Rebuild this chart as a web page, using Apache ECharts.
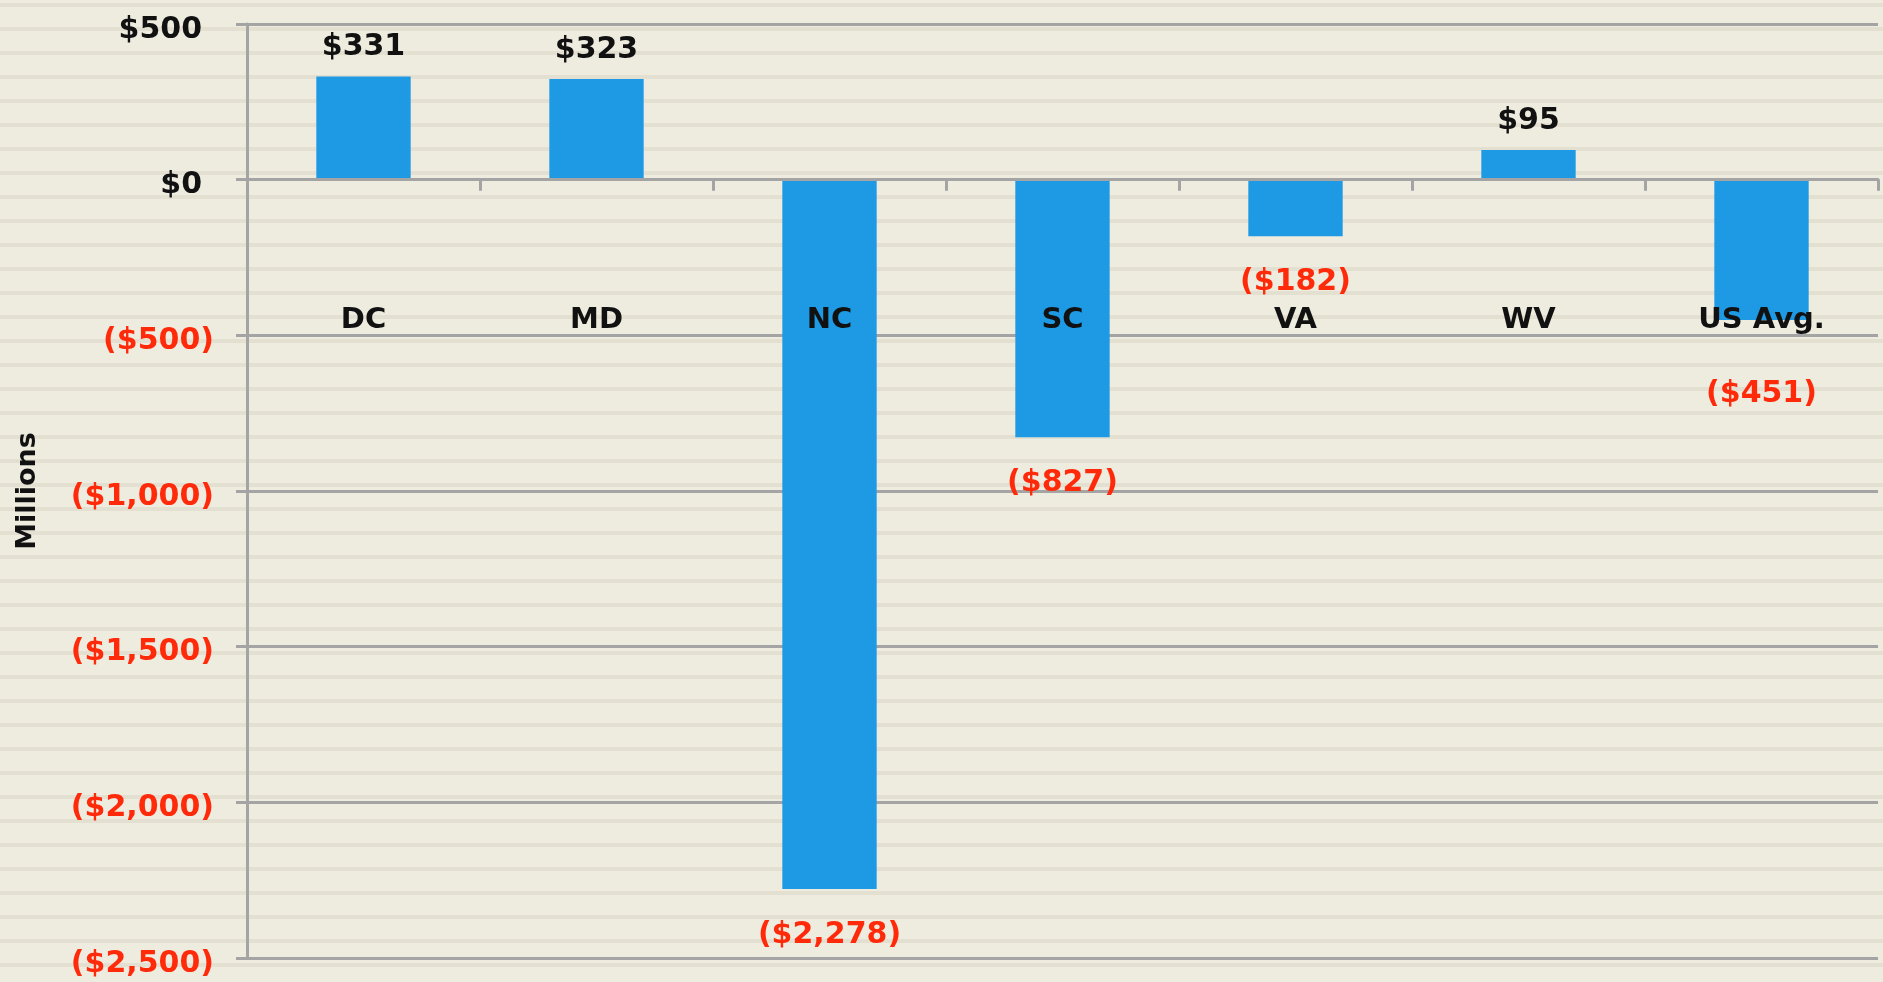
<!DOCTYPE html>
<html>
<head>
<meta charset="utf-8">
<script src="https://cdn.jsdelivr.net/npm/echarts@6/dist/echarts.min.js"></script>
<style>
  html, body { margin: 0; padding: 0; }
  body {
    width: 1883px; height: 982px; overflow: hidden;
    background: repeating-linear-gradient(to bottom, #eeebdf 0px, #eeebdf 3px, #e4e0d1 3px, #e4e0d1 7px, #eeebdf 7px, #eeebdf 24px);
  }
  #chart { width: 1883px; height: 982px; }
</style>
</head>
<body>
<div id="chart"></div>
<script>
// 各州数据 (Millions)
var states = ['DC', 'MD', 'NC', 'SC', 'VA', 'WV', 'US Avg.'];
var values = [331, 323, -2278, -827, -182, 95, -451];

var yMin = -2500;
var yMax = 500;
var yStep = 500;

var fontName = 'DejaVu Sans';
var gridTop = 24;
var gridBottom = 24;
var gridH = 982 - gridTop - gridBottom;
// x轴标签跟随零线
var zeroOffset = -gridH * (0 - yMin) / (yMax - yMin);

// 金额格式: $1,000 / ($1,000)
function money(v) {
    var s = '$' + Math.abs(v).toString().replace(/\B(?=(\d{3})+(?!\d))/g, ',');
    return v < 0 ? '(' + s + ')' : s;
}

var barData = [];
for (var i = 0; i < values.length; i++) {
    var v = values[i];
    // 标签与类目标签重叠时下移
    var negDist = (v < -380 && v > -520) ? 59 : 31;
    barData.push({
        value: v,
        label: v < 0
            ? { position: 'bottom', distance: negDist, color: '#ff2a0a' }
            : { position: 'top', distance: 14, color: '#111111' }
    });
}

var chartDom = document.getElementById('chart');
var myChart = echarts.init(chartDom);
var option;

option = {
    backgroundColor: 'transparent',
    animation: false,
    grid: { left: 247, right: 5, top: gridTop, bottom: gridBottom, containLabel: false, outerBoundsMode: 'none' },
    xAxis: {
        type: 'category',
        data: states,
        z: 5,
        offset: zeroOffset,
        axisLine: { onZero: false, lineStyle: { color: '#a4a4a4', width: 3 } },
        axisTick: { show: true, length: 11, lineStyle: { color: '#a4a4a4', width: 3 } },
        axisLabel: {
            margin: 126,
            fontFamily: fontName,
            fontWeight: 'bold',
            fontSize: 29,
            color: '#111111'
        },
        splitLine: { show: false }
    },
    yAxis: {
        type: 'value',
        min: yMin,
        max: yMax,
        interval: yStep,
        name: 'Millions',
        nameLocation: 'middle',
        nameGap: 206,
        nameTextStyle: { fontFamily: fontName, fontWeight: 'bold', fontSize: 27, color: '#111111' },
        axisLine: { show: true, lineStyle: { color: '#a4a4a4', width: 3 } },
        axisTick: { show: true, length: 11, lineStyle: { color: '#a4a4a4', width: 3 } },
        splitLine: { show: true, lineStyle: { color: '#a4a4a4', width: 3 } },
        axisLabel: {
            margin: 33,
            fontFamily: fontName,
            fontWeight: 'bold',
            fontSize: 30,
            padding: [12, 0, 0, 0],
            formatter: function (v) {
                return v < 0 ? '{neg|' + money(v) + '}' : '{pos|' + money(v) + '}';
            },
            rich: {
                neg: { color: '#ff2a0a', fontFamily: fontName, fontWeight: 'bold', fontSize: 30 },
                pos: { color: '#111111', fontFamily: fontName, fontWeight: 'bold', fontSize: 30, padding: [0, 12, 0, 0] }
            }
        }
    },
    series: [
        {
            type: 'bar',
            data: barData,
            barWidth: '40.5%',
            itemStyle: { color: '#1e9ae5' },
            label: {
                show: true,
                fontFamily: fontName,
                fontWeight: 'bold',
                fontSize: 30,
                formatter: function (p) { return money(p.value); }
            }
        }
    ]
};

option && myChart.setOption(option);
</script>
</body>
</html>
